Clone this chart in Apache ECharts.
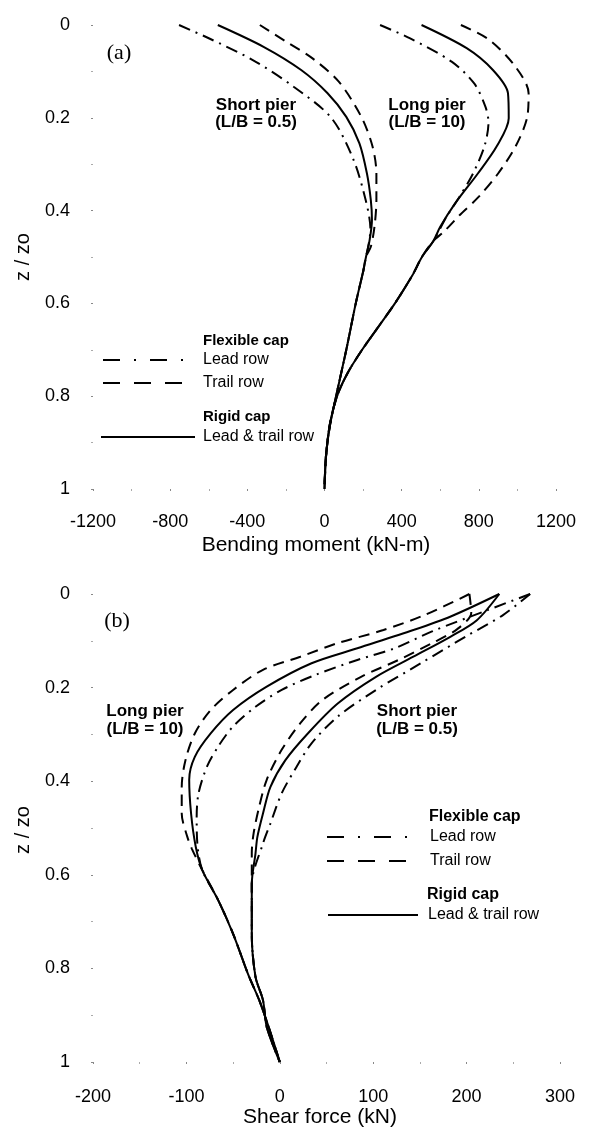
<!DOCTYPE html>
<html>
<head>
<meta charset="utf-8">
<script src="https://cdn.jsdelivr.net/npm/echarts@6/dist/echarts.min.js"></script>
<style>
html,body{margin:0;padding:0;background:#fff;}
#chart{width:589px;height:1130px;}
</style>
</head>
<body>
<div id="chart"></div>
<script>
// ---------- (a) Bending moment (kN-m) vs z/zo ----------
const bmShortLead  = [[-754,0],[-608,0.027],[-374,0.075],[-160,0.133],[35,0.2],[150,0.29],[215,0.38],[238,0.44],[230,0.47]];
const bmShortRigid = [[-553,0],[-316,0.047],[-121,0.097],[16,0.147],[113,0.198],[181,0.255],[220,0.32],[240,0.377],[246,0.42],[234,0.463]];
const bmShortTrail = [[-335,0],[-199,0.036],[-62,0.072],[74,0.122],[191,0.198],[249,0.262],[269,0.32],[269,0.377],[259,0.435],[240,0.478]];
const bmShortTail  = [[215,0.5],[201,0.53],[162,0.6],[113,0.7],[60,0.8],[27,0.866],[7,0.931],[0,1]];

const bmLongLead   = [[288,0],[444,0.029],[659,0.079],[776,0.126],[834,0.176],[850,0.21],[830,0.26],[770,0.32],[700,0.37],[630,0.415]];
const bmLongRigid  = [[503,0],[737,0.05],[873,0.097],[951,0.147],[955,0.201],[892,0.262],[795,0.32],[678,0.384],[600,0.435]];
const bmLongTrail  = [[707,0],[854,0.032],[990,0.09],[1058,0.147],[1050,0.2],[990,0.262],[900,0.32],[800,0.37],[700,0.41],[620,0.445]];
const bmLongTail   = [[565,0.465],[505,0.5],[455,0.54],[365,0.6],[280,0.65],[195,0.7],[120,0.75],[65,0.8],[28,0.86],[8,0.93],[0,1]];

// ---------- (b) Shear force (kN) vs z/zo ----------
const sfLongLead   = [[268,0],[223,0.034],[163,0.08],[123,0.116],[83,0.141],[38,0.173],[2,0.205],[-26,0.241],[-50,0.283],[-66,0.326],[-78,0.369],[-87,0.426],[-89,0.476],[-88,0.54]];
const sfLongRigid  = [[235,0],[183,0.048],[143,0.077],[83,0.116],[34,0.148],[-14,0.198],[-50,0.248],[-74,0.298],[-91,0.348],[-97,0.397],[-95,0.469],[-90,0.54]];
const sfLongTrail  = [[203,0],[155,0.045],[111,0.077],[62,0.105],[22,0.134],[-18,0.162],[-50,0.205],[-74,0.248],[-91,0.298],[-101,0.355],[-105,0.412],[-105,0.469],[-99,0.519],[-94,0.545]];
const sfLongTail   = [[-83,0.59],[-66,0.654],[-50,0.726],[-34,0.812],[-22,0.868],[-12,0.925],[0,1]];

const sfShortLead  = [[268,0],[239,0.045],[199,0.091],[151,0.148],[103,0.205],[62,0.262],[34,0.319],[18,0.369],[2,0.426],[-10,0.49],[-18,0.533]];
const sfShortRigid = [[235,0],[211,0.056],[183,0.091],[143,0.134],[103,0.177],[62,0.234],[30,0.298],[6,0.355],[-10,0.412],[-18,0.469],[-24,0.519],[-26,0.554]];
const sfShortTrail = [[203,0],[205,0.04],[190,0.075],[163,0.105],[127,0.141],[87,0.177],[46,0.226],[22,0.276],[2,0.333],[-14,0.397],[-22,0.454],[-28,0.511],[-30,0.554]];
const sfShortTail  = [[-30,0.62],[-30,0.726],[-26,0.818],[-18,0.868],[-14,0.925],[0,1]];

// tick settings
const bmTicks = {min:-1200, max:1200, interval:400};
const sfTicks = {min:-200, max:300, interval:100};
const zTicks  = {min:0, max:1, interval:0.2};

const FONT = 'Liberation Sans, Arial, sans-serif';
const DASHDOT = [12,6,2,6];
const DASH = [11,7];

function xAx(gi, t, margin){
  return {type:'value', gridIndex:gi, position:'bottom', min:t.min, max:t.max, interval:t.interval,
    axisLine:{show:false, onZero:false}, splitLine:{show:false},
    axisTick:{show:true, length:2, lineStyle:{color:'#888'}},
    minorTick:{show:true, splitNumber:2, length:2, lineStyle:{color:'#aaa'}},
    axisLabel:{fontFamily:FONT, fontSize:18, color:'#000', margin:margin, formatter:function(v){return String(v);}}};
}
function yAx(gi){
  return {type:'value', gridIndex:gi, position:'left', inverse:true, min:zTicks.min, max:zTicks.max, interval:zTicks.interval,
    axisLine:{show:false, onZero:false}, splitLine:{show:false},
    axisTick:{show:true, length:2, lineStyle:{color:'#888'}},
    minorTick:{show:true, splitNumber:2, length:2, lineStyle:{color:'#aaa'}},
    axisLabel:{fontFamily:FONT, fontSize:18, color:'#000', margin:23, formatter:function(v){return String(+v.toFixed(1));}}};
}
function ser(gi, data, type, w){
  return {type:'line', xAxisIndex:gi, yAxisIndex:gi, data:data, showSymbol:false, symbol:'none',
    smooth:0.3, animation:false, silent:true,
    lineStyle:{color:'#000', width:w||2, type:type}};
}

function txt(x,y,t,opt){
  opt = opt||{};
  return {type:'text', x:x, y:y, rotation:opt.rot||0, silent:true,
    style:{text:t, fill:'#000', font:(opt.bold?'bold ':'')+(opt.size||16)+'px '+(opt.family||FONT),
      textAlign:opt.align||'left', textVerticalAlign:'middle', align:opt.align||'left', verticalAlign:'middle'}};
}
function seg(x1,x2,y,dash,w){
  return {type:'line', silent:true, shape:{x1:x1,y1:y,x2:x2,y2:y},
    style:{stroke:'#000', lineWidth:w||2.2, lineDash:dash||null}};
}

const chart = echarts.init(document.getElementById('chart'), null, {renderer:'canvas'});
chart.setOption({
  backgroundColor:'#fff',
  animation:false,
  grid:[
    {left:93, width:463, top:25, height:464},
    {left:93, width:467, top:594, height:468}
  ],
  xAxis:[xAx(0,bmTicks,24), xAx(1,sfTicks,26)],
  yAxis:[yAx(0), yAx(1)],
  series:[
    ser(0, bmShortLead.concat(bmShortTail), DASHDOT),
    ser(0, bmShortRigid.concat(bmShortTail), 'solid'),
    ser(0, bmShortTrail.concat(bmShortTail), DASH),
    ser(0, bmLongLead.concat(bmLongTail), DASHDOT),
    ser(0, bmLongRigid.concat(bmLongTail), 'solid'),
    ser(0, bmLongTrail.concat(bmLongTail), DASH),
    ser(1, sfLongLead.concat(sfLongTail), DASHDOT),
    ser(1, sfLongRigid.concat(sfLongTail), 'solid'),
    ser(1, sfLongTrail.concat(sfLongTail), DASH),
    ser(1, sfShortLead.concat(sfShortTail), DASHDOT),
    ser(1, sfShortRigid.concat(sfShortTail), 'solid'),
    ser(1, sfShortTrail.concat(sfShortTail), DASH)
  ],
  graphic:[
    txt(119,53,'(a)',{size:22, family:'Liberation Serif, serif', align:'center'}),
    txt(117,621,'(b)',{size:22, family:'Liberation Serif, serif', align:'center'}),
    txt(256,105,'Short pier',{bold:true,size:17,align:'center'}),
    txt(256,122,'(L/B = 0.5)',{bold:true,size:17,align:'center'}),
    txt(427,105,'Long pier',{bold:true,size:17,align:'center'}),
    txt(427,122,'(L/B = 10)',{bold:true,size:17,align:'center'}),
    txt(145,711,'Long pier',{bold:true,size:17,align:'center'}),
    txt(145,729,'(L/B = 10)',{bold:true,size:17,align:'center'}),
    txt(417,711,'Short pier',{bold:true,size:17,align:'center'}),
    txt(417,729,'(L/B = 0.5)',{bold:true,size:17,align:'center'}),
    txt(316,545,'Bending moment (kN-m)',{size:21,align:'center'}),
    txt(320,1117,'Shear force (kN)',{size:21,align:'center'}),
    txt(23,257,'z / zo',{size:20,align:'center',rot:Math.PI/2}),
    txt(23,830,'z / zo',{size:20,align:'center',rot:Math.PI/2}),
    txt(203,341,'Flexible cap',{bold:true,size:15}),
    seg(103,186,360,[17,14,2,14]),
    txt(203,360,'Lead row',{size:16}),
    seg(103,182,383,[17,14]),
    txt(203,383,'Trail row',{size:16}),
    txt(203,417,'Rigid cap',{bold:true,size:15}),
    seg(101,195,437,null),
    txt(203,437,'Lead & trail row',{size:16}),
    txt(429,817,'Flexible cap',{bold:true,size:16}),
    seg(327,410,837,[17,14,2,14]),
    txt(430,837,'Lead row',{size:16}),
    seg(327,407,861,[17,14]),
    txt(430,861,'Trail row',{size:16}),
    txt(427,895,'Rigid cap',{bold:true,size:16}),
    seg(328,418,915,null),
    txt(428,915,'Lead & trail row',{size:16})
  ]
});
</script>
</body>
</html>
